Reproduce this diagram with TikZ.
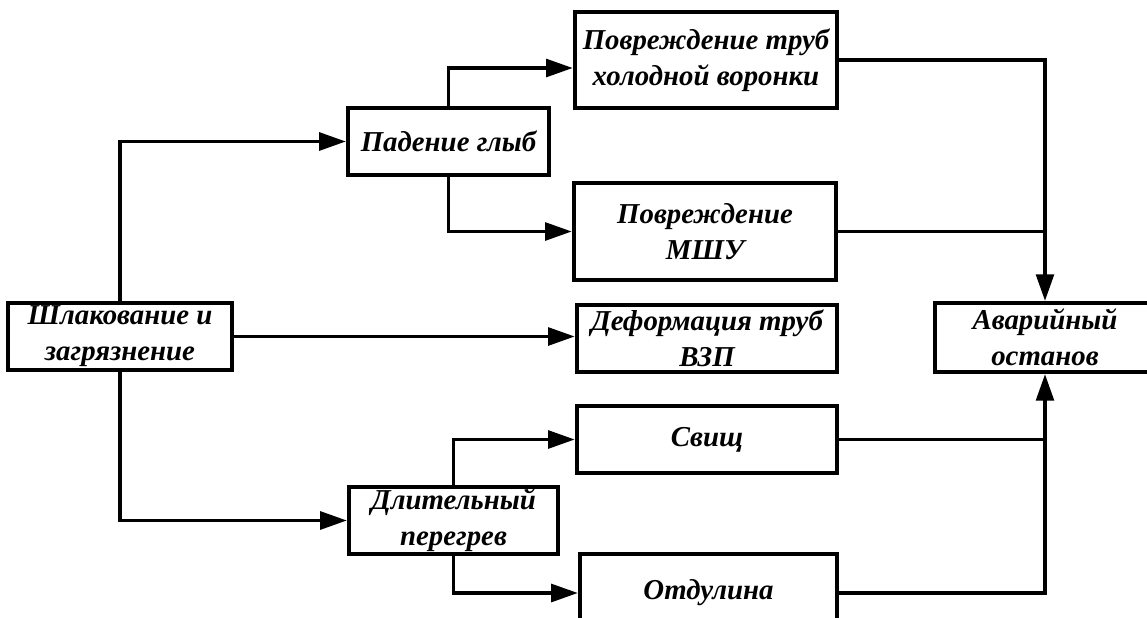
\documentclass[tikz,border=0pt]{standalone}
\usepackage{fontspec}
\setmainfont{Liberation Serif}
\usepackage{tikz}
\usetikzlibrary{arrows.meta, positioning, calc}

\begin{document}
\begin{tikzpicture}[x=0.025cm, y=-0.025cm,
    blk/.style={draw, line width=3pt, align=center, inner sep=0pt,
      font=\fontsize{20.5}{25.5}\selectfont\bfseries\itshape},
    arr/.style={line width=2.8pt, -{Triangle[length=19pt, width=12.5pt]}},
    ln/.style={line width=2.8pt}]
    \useasboundingbox (0,0) rectangle (1147,618);

\node[blk, minimum width=5.6cm, minimum height=1.68cm] (slag) at (120,336.5) {Шлакование и\\загрязнение};
\node[blk, minimum width=5.02cm, minimum height=1.68cm] (fall) at (448.5,141.5) {Падение глыб};
\node[blk, minimum width=6.55cm, minimum height=2.4cm] (cold) at (706,60) {Повреждение труб\\холодной воронки};
\node[blk, minimum width=6.55cm, minimum height=2.42cm] (msu) at (705,231.5) {Повреждение\\МШУ};
\node[blk, minimum width=6.5cm, minimum height=1.68cm] (vzp) at (707,338.5) {Деформация труб\\ВЗП};
\node[blk, minimum width=5.5cm, minimum height=1.72cm] (stop) at (1045,337.5) {Аварийный\\останов};
\node[blk, minimum width=6.5cm, minimum height=1.68cm] (fist) at (707,439.5) {Свищ};
\node[blk, minimum width=5.22cm, minimum height=1.68cm] (heat) at (453.5,520.5) {Длительный\\перегрев};
\node[blk, minimum width=6.42cm, minimum height=1.95cm] (bulge) at (708.5,593) {Отдулина};

\draw[arr] (slag.north) |- (fall.west);
\draw[arr] (slag.south) |- (heat.west);
\draw[arr] (slag.east) -- (slag.east -| vzp.west);
\draw[arr] (fall.north) |- ([yshift=-0.2cm]cold.west);
\draw[arr] (fall.south) |- (msu.west);
\draw[arr] (heat.north) |- (fist.west);
\draw[arr] (heat.south) |- (bulge.west);

\draw[arr] (cold.east) -| (stop.north);
\draw[ln] (msu.east) -- (msu.east -| stop.north);
\draw[ln] (fist.east) -- (fist.east -| stop.south);
\draw[arr] (bulge.east) -| (stop.south);
\end{tikzpicture}
\end{document}
